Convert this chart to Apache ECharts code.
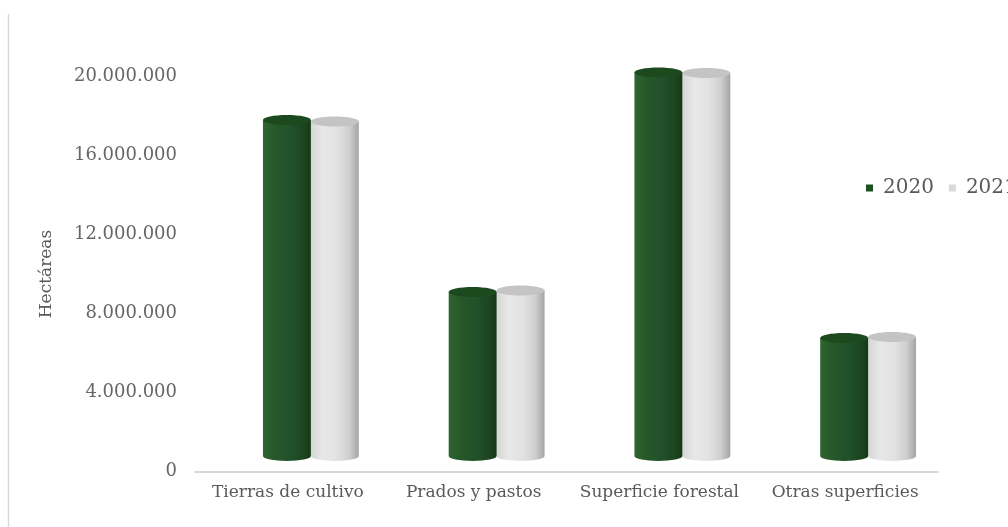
<!DOCTYPE html>
<html>
<head>
<meta charset="utf-8">
<script src="https://cdn.jsdelivr.net/npm/echarts@6/dist/echarts.min.js"></script>
<style>
html,body{margin:0;padding:0;background:#fff;}
#chart{width:1008px;height:527px;}
</style>
</head>
<body>
<div id="chart"></div>
<script>
const categories = ['Tierras de cultivo', 'Prados y pastos', 'Superficie forestal', 'Otras superficies'];
const values2020 = [17010000, 8300000, 19420000, 5970000];
const values2021 = [16940000, 8380000, 19390000, 6030000];
const seriesNames = ['2020', '2021'];
const yTicks = [0, 4000000, 8000000, 12000000, 16000000, 20000000];

const FONT = '"DejaVu Serif", "Liberation Serif", serif';
const DX = 23, DY = -15.5, RY = 5;

const palettes = [
  { body: [['#2f6530',0],['#26582a',0.25],['#21502a',0.6],['#1b441d',0.88],['#153716',1]], top: '#1c4a1e', legend: '#1e5120' },
  { body: [['#d6d6d6',0],['#e8e8e8',0.25],['#e2e2e2',0.55],['#cfcfcf',0.8],['#a4a4a4',1]], top: '#c4c4c4', legend: '#d9d9d9' }
];

function grad(stops){
  return new echarts.graphic.LinearGradient(0,0,1,0, stops.map(s=>({offset:s[1], color:s[0]})));
}

function makeRender(si){
  const pal = palettes[si];
  return function(params, api){
    const idx = api.value(0), v = api.value(1);
    const base = api.coord([idx, 0]);
    const top = api.coord([idx, v]);
    const catW = api.size([1, 0])[0];
    const bw = catW * 0.258;
    const rx = bw / 2;
    const cx = base[0] + DX + (si === 0 ? -bw/2 : bw/2);
    const x0 = cx - rx, x1 = cx + rx;
    const yb = base[1] + DY, yt = top[1] + DY;
    const bodyPath = 'M' + x0 + ' ' + yt + ' L' + x0 + ' ' + yb +
      ' A' + rx + ' ' + RY + ' 0 0 0 ' + x1 + ' ' + yb +
      ' L' + x1 + ' ' + yt + ' Z';
    return {
      type: 'group',
      children: [
        { type: 'path', shape: { pathData: bodyPath }, style: { fill: grad(pal.body) } },
        { type: 'ellipse', shape: { cx: cx, cy: yt, rx: rx, ry: RY }, style: { fill: pal.top } }
      ]
    };
  };
}

const chart = echarts.init(document.getElementById('chart'), null, { renderer: 'canvas' });
chart.setOption({
  animation: false,
  backgroundColor: '#fff',
  color: [palettes[0].legend, palettes[1].legend],
  graphic: [{
    type: 'line', shape: { x1: 8.5, y1: 14, x2: 8.5, y2: 527 },
    style: { stroke: '#d9d9d9', lineWidth: 1.5 }, silent: true
  }],
  legend: {
    data: seriesNames.map((n, i) => ({ name: n, itemStyle: { color: palettes[i].legend } })),
    left: 861, top: 173, width: 300,
    icon: 'rect', itemWidth: 7, itemHeight: 7, itemGap: 15,
    textStyle: { fontFamily: FONT, fontSize: 20, color: '#595959', padding: [0, 0, 0, 5] }
  },
  grid: { left: 195, right: 70, top: 76.5, bottom: 55.5, containLabel: false },
  xAxis: {
    type: 'category', data: categories,
    axisLine: { lineStyle: { color: '#d9d9d9', width: 2 } },
    axisTick: { show: false },
    axisLabel: { interval: 0, fontFamily: FONT, fontSize: 17, color: '#595959', margin: 13 }
  },
  yAxis: {
    type: 'value', min: 0, max: 20000000, interval: 4000000,
    name: 'Hectáreas', nameLocation: 'middle', nameGap: 140, nameRotate: 90,
    nameTextStyle: { fontFamily: FONT, fontSize: 17, color: '#595959' },
    axisLine: { show: false }, axisTick: { show: false },
    splitLine: { show: false },
    axisLabel: {
      fontFamily: FONT, fontSize: 18, color: '#666', margin: 18,
      formatter: v => yTicks.includes(v) ? String(v).replace(/\B(?=(\d{3})+(?!\d))/g, '.') : ''
    }
  },
  series: seriesNames.map((n, si) => ({
    name: n, type: 'custom',
    data: (si === 0 ? values2020 : values2021).map((v, i) => [i, v]),
    encode: { x: 0, y: 1 },
    renderItem: makeRender(si),
    z: si === 0 ? 3 : 2
  }))
});
</script>
</body>
</html>
